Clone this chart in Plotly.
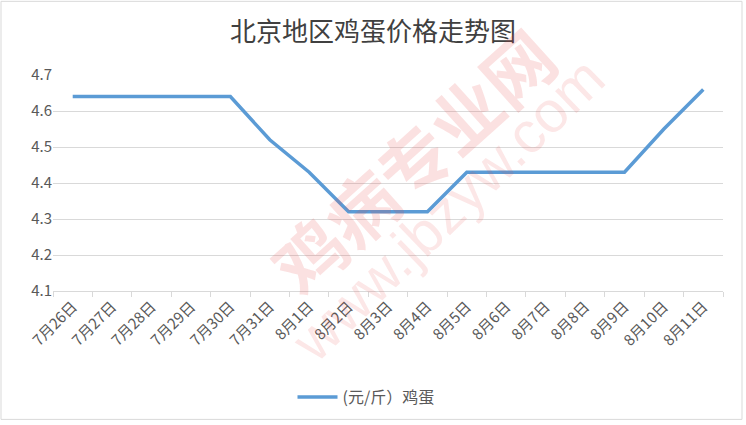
import plotly.graph_objects as go

dates = ["7月26日", "7月27日", "7月28日", "7月29日", "7月30日", "7月31日",
         "8月1日", "8月2日", "8月3日", "8月4日", "8月5日", "8月6日",
         "8月7日", "8月8日", "8月9日", "8月10日", "8月11日"]
prices = [4.64, 4.64, 4.64, 4.64, 4.64, 4.52, 4.43, 4.32, 4.32, 4.32,
          4.43, 4.43, 4.43, 4.43, 4.43, 4.55, 4.66]
y_ticks = [4.1, 4.2, 4.3, 4.4, 4.5, 4.6, 4.7]

W, H = 746, 425
L, R, T, B = 53, 23, 75, 133
PW, PH = W - L - R, H - T - B


def px(x):
    return (x - L) / PW


def py(y):
    return (H - B - y) / PH


FONT = "Noto Sans CJK SC, Microsoft YaHei, sans-serif"
TXT = "#595959"

fig = go.Figure(go.Scatter(
    x=dates, y=prices, mode="lines", name="(元/斤）鸡蛋",
    line=dict(color="#5B9BD5", width=3.5),
))

# watermark
fig.add_annotation(text="<b>鸡病专业网</b>", xref="paper", yref="paper",
                   x=px(412), y=py(160), showarrow=False, textangle=-42,
                   font=dict(size=70, color="rgba(230,70,70,0.16)", family=FONT))
fig.add_annotation(text="www.jbzyw.com", xref="paper", yref="paper",
                   x=px(447), y=py(210), showarrow=False, textangle=-44,
                   font=dict(size=58, color="rgba(230,70,70,0.13)", family="Arial, sans-serif"))

# outer frame
fig.add_shape(type="rect", xref="paper", yref="paper",
              x0=px(1), x1=px(742), y0=py(421), y1=py(1),
              line=dict(color="#D9D9D9", width=1), layer="below")

fig.update_layout(
    width=W, height=H,
    margin=dict(l=L, r=R, t=T, b=B),
    paper_bgcolor="#FFFFFF", plot_bgcolor="#FFFFFF",
    font=dict(family=FONT, color=TXT),
    title=dict(text="北京地区鸡蛋价格走势图", x=0.5, xanchor="center",
               yref="container", y=1 - 32 / H, yanchor="middle",
               font=dict(size=26, color="#404040", family=FONT)),
    showlegend=True,
    legend=dict(orientation="h", xref="paper", x=px(366), xanchor="center",
                y=py(397), yanchor="middle", font=dict(size=16, color=TXT),
                itemwidth=40),
    xaxis=dict(type="category", tickson="boundaries", ticks="outside", ticklen=5,
               tickcolor="#D9D9D9", showline=True, linecolor="#D9D9D9", linewidth=1,
               showgrid=False, tickangle=-45, tickfont=dict(size=15, color=TXT),
               range=[-0.5, len(dates) - 0.5]),
    yaxis=dict(range=[4.1, 4.7], tickvals=y_ticks, tickformat=".1f",
               showgrid=True, gridcolor="#D9D9D9", gridwidth=1, zeroline=False,
               showline=False, ticks="", tickfont=dict(size=15, color=TXT)),
)

# drop the default page margin so the chart sits at the window corner
fig.write_html("out.html", config={"displayModeBar": False},
               post_script="document.body.style.margin='0';")
